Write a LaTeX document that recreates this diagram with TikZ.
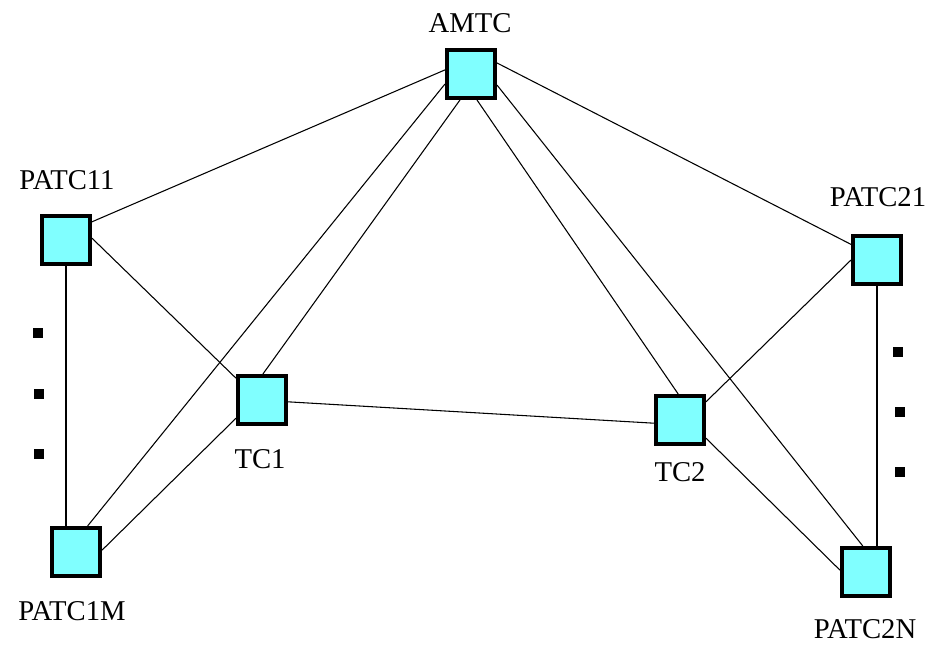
\documentclass[tikz,border=0pt]{standalone}
\usepackage{fontspec}
\setmainfont{Liberation Serif}
\usetikzlibrary{positioning}
\definecolor{boxcyan}{RGB}{128,255,255}
\tikzset{
  station/.style={draw,rectangle,fill=boxcyan,line width=3pt,minimum size=36pt,inner sep=0pt},
  tag/.style={inner sep=0pt,font=\fontsize{21.5}{24}\selectfont},
  link/.style={line width=0.8pt},
  dotmark/.style={fill,rectangle,minimum size=7pt,inner sep=0pt}
}
\begin{document}
\begin{tikzpicture}[x=0.75pt,y=-0.75pt]
  \useasboundingbox (0,0) rectangle (931,644);
  \node[station] (amtc) at (471,74) {};
  \node[station] (patc11) at (66,240) {};
  \node[station] (patc1m) at (76,552) {};
  \node[station] (tc1) at (262,400) {};
  \node[station] (tc2) at (680,420) {};
  \node[station] (patc21) at (877,260) {};
  \node[station] (patc2n) at (866,572) {};
  \node[tag] (lamtc) at (470,23) {AMTC};
  \node[tag] (lpatc11) at (67,180) {PATC11};
  \node[tag] (lpatc1m) at (72,611) {PATC1M};
  \node[tag] (ltc1) at (260,459) {TC1};
  \node[tag] (ltc2) at (680,472) {TC2};
  \node[tag] (lpatc21) at (878,197) {PATC21};
  \node[tag] (lpatc2n) at (865,629) {PATC2N};
  \draw[link] (amtc.171)--(patc11.35);
  \draw[link] (amtc.23)--(patc21.149);
  \draw[link] (amtc.201)--(patc1m.66);
  \draw[link] (amtc.247)--(tc1.88);
  \draw[link] (amtc.283)--(tc2.94);
  \draw[link] (amtc.337)--(patc2n.97);
  \draw[link,line width=1.1pt] (patc11.south)--(patc11.south |- patc1m.north);
  \draw[link] (patc11.4)--(tc1.140);
  \draw[link] (tc1.215)--(patc1m.4);
  \draw[link] (tc1.356)--(tc2.187);
  \draw[link] (tc2.35)--(patc21.180);
  \draw[link] (tc2.325)--(patc2n.176);
  \draw[link,line width=1.1pt] (patc21.south)--(patc21.south |- patc2n.north);
  \foreach \i/\x/\y in {1/38/333,2/39/394,3/39/454,4/898/352,5/900/412,6/900/472}
    \node[dotmark] (dot\i) at (\x,\y) {};
\end{tikzpicture}
\end{document}
